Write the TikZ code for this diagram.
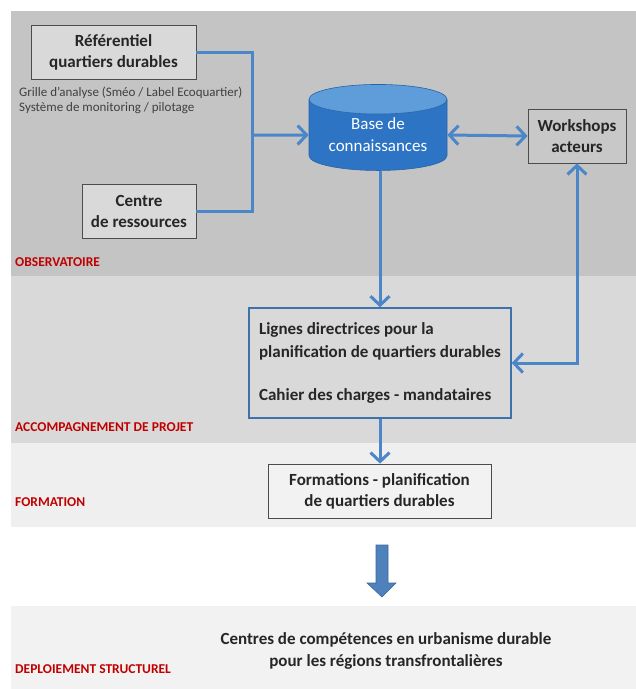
\documentclass[tikz,border=0pt]{standalone}
\usepackage{fontspec}
\setmainfont{Carlito}
\usetikzlibrary{arrows.meta,shapes.geometric,positioning}

\definecolor{Obs}{HTML}{C4C4C4}
\definecolor{Accomp}{HTML}{D9D9D9}
\definecolor{Form}{HTML}{EFEFEF}
\definecolor{Deploi}{HTML}{F2F2F2}
\definecolor{Link}{HTML}{4A86C8}
\definecolor{Titre}{HTML}{C00000}
\definecolor{BaseBody}{HTML}{2E74C4}
\definecolor{BaseEnd}{HTML}{5E9CDA}
\definecolor{BigArrow}{HTML}{4F81BD}

\tikzset{
  greybox/.style={draw=black!70, line width=0.8pt, align=center, inner sep=0pt,
    font=\bfseries\fontsize{17}{21}\selectfont, text=black!85},
  bandlabel/.style={anchor=west, inner sep=0pt, text=Titre,
    font=\bfseries\fontsize{13.5}{15}\selectfont},
  link/.style={draw=Link, line width=3pt, -{Straight Barb[length=9pt,width=19pt]}},
  twolink/.style={draw=Link, line width=3pt, {Straight Barb[length=9pt,width=19pt]}-{Straight Barb[length=9pt,width=19pt]}}
}

\begin{document}
\begin{tikzpicture}[x=1pt, y=-1pt]

 \useasboundingbox (0,0) rectangle (636,689) ;

 %%%%%%%%%% Bandes de fond %%%%%%%%%%
 \fill [Obs] (11,11) rectangle (636,276) ;
 \fill [Accomp] (11,276) rectangle (636,443) ;
 \fill [Form] (11,443) rectangle (636,527) ;
 \fill [Deploi] (11,606) rectangle (636,689) ;

 \node [bandlabel] (obs) at (15,262) {OBSERVATOIRE};
 \node [bandlabel] (accomp) at (15,427) {ACCOMPAGNEMENT DE PROJET};
 \node [bandlabel] (form) at (15,502) {FORMATION};
 \node [bandlabel] (deploi) at (15,669) {DEPLOIEMENT STRUCTUREL};

 %%%%%%%%%% Boites %%%%%%%%%%
 \node [greybox, fill=Accomp, minimum width=165pt, minimum height=54pt] (ref) at (113.5,52) {R\'ef\'erentiel\\quartiers durables};
 \node [anchor=north west, inner sep=0pt, align=left, text=black!75,
   font=\fontsize{13}{14.5}\selectfont] (grille) at (19,87) {Grille d'analyse (Sm\'eo / Label Ecoquartier)\\Syst\`eme de monitoring / pilotage};
 \node [greybox, fill=Accomp, minimum width=114pt, minimum height=54pt] (centre) at (139,211) {Centre\\de ressources};
 \node [greybox, fill=Obs!80!Accomp, minimum width=98pt, minimum height=54pt] (work) at (577,136) {Workshops\\acteurs};

 \node [cylinder, shape border rotate=90, aspect=0.3, minimum width=138pt, minimum height=86pt,
   draw=BaseBody!85!black, line width=0.6pt, cylinder uses custom fill, cylinder body fill=BaseBody,
   cylinder end fill=BaseEnd, text=white, align=center, inner sep=0pt,
   font=\fontsize{17}{22}\selectfont] (base) at (378,135) {Base de\\connaissances};

 \node [draw=Link!85!black, line width=1.5pt, fill=Accomp, minimum width=262pt, minimum height=110pt,
   align=left, inner sep=0pt, text=black!85, font=\bfseries\fontsize{17}{23}\selectfont] (lignes) at (380,363)
   {Lignes directrices pour la\\planification de quartiers durables\\[20pt]Cahier des charges - mandataires};

 \node [greybox, fill=Deploi, minimum width=223pt, minimum height=54pt] (formation) at (379.5,491) {Formations - planification\\de quartiers durables};

 \node [align=center, inner sep=0pt, text=black!85, font=\bfseries\fontsize{17}{22}\selectfont] (centres) at (386,651)
   {Centres de comp\'etences en urbanisme durable\\pour les r\'egions transfrontali\`eres};

 %%%%%%%%%% Liens %%%%%%%%%%
 \coordinate (joint) at (252,135) ;
 \draw [draw=Link, line width=3pt] (ref.east) -| (joint) ;
 \draw [draw=Link, line width=3pt] (centre.east) -| (joint) ;
 \draw [link] (joint) -- (base.west) ;
 \draw [twolink] (base.east) -- (work.west) ;
 \draw [link] (base.south -| lignes.north) -- (lignes.north) ;
 \draw [twolink] (work.south) |- (lignes.east) ;
 \draw [link] (lignes.south) -- (lignes.south |- formation.north) ;

 %%%%%%%%%% Grosse fleche %%%%%%%%%%
 \coordinate (f1) at (376,545) ;
 \coordinate (f2) at (388,545) ;
 \coordinate (f3) at (388,583) ;
 \coordinate (f4) at (396,583) ;
 \coordinate (f5) at (382,597) ;
 \coordinate (f6) at (367,583) ;
 \coordinate (f7) at (376,583) ;
 \draw [fill=BigArrow, draw=BigArrow!80!black, line width=0.6pt] (f1) -- (f2) -- (f3) -- (f4) -- (f5) -- (f6) -- (f7) -- cycle ;

\end{tikzpicture}
\end{document}
